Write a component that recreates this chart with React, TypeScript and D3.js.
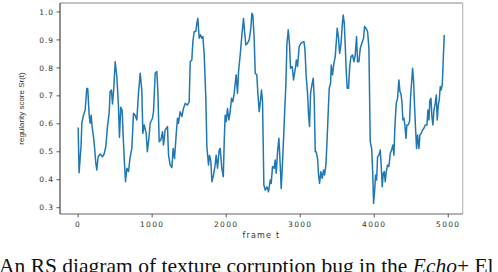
import React from "react";
import * as d3 from "d3";

// frame index and regularity score
const frames = [
  0, 13, 40, 50, 72, 95, 117, 130, 149, 162, 176, 189, 207, 221, 239, 252, 270, 297, 329, 351,
  374, 396, 419, 432, 450, 464, 482, 500, 523, 545, 558, 576, 594, 613, 626, 640, 658, 680, 703, 725,
  748, 770, 793, 815, 838, 860, 874, 892, 919, 935, 955, 973, 1004, 1018, 1041, 1063, 1077, 1095, 1117, 1140,
  1153, 1176, 1207, 1221, 1243, 1266, 1284, 1302, 1324, 1342, 1356, 1378, 1401, 1423, 1446, 1477, 1500, 1514, 1536, 1550,
  1568, 1590, 1604, 1617, 1635, 1653, 1671, 1685, 1703, 1725, 1739, 1761, 1775, 1793, 1807, 1829, 1851, 1865, 1883, 1905,
  1919, 1941, 1961, 1975, 1986, 2000, 2018, 2036, 2054, 2072, 2090, 2108, 2122, 2135, 2153, 2167, 2189, 2212, 2234, 2248,
  2266, 2288, 2311, 2333, 2347, 2360, 2378, 2392, 2414, 2428, 2446, 2459, 2477, 2491, 2509, 2527, 2550, 2572, 2595, 2608,
  2626, 2649, 2662, 2676, 2694, 2712, 2730, 2743, 2766, 2788, 2806, 2820, 2838, 2856, 2869, 2892, 2910, 2935, 2948, 2964,
  2986, 3009, 3032, 3050, 3063, 3081, 3099, 3113, 3126, 3140, 3158, 3176, 3189, 3203, 3216, 3234, 3248, 3261, 3279, 3297,
  3315, 3329, 3347, 3360, 3374, 3392, 3410, 3419, 3437, 3455, 3473, 3491, 3500, 3518, 3532, 3550, 3568, 3581, 3595, 3608,
  3622, 3635, 3653, 3667, 3685, 3707, 3725, 3743, 3761, 3775, 3793, 3811, 3833, 3856, 3869, 3887, 3910, 3928, 3946, 3966,
  3980, 3991, 4005, 4018, 4032, 4045, 4063, 4081, 4095, 4108, 4122, 4135, 4149, 4162, 4180, 4198, 4216, 4234, 4252, 4266,
  4279, 4297, 4315, 4333, 4347, 4360, 4374, 4387, 4401, 4414, 4428, 4441, 4459, 4477, 4491, 4509, 4518, 4532, 4545, 4558,
  4572, 4586, 4604, 4617, 4635, 4653, 4671, 4689, 4712, 4725, 4739, 4752, 4766, 4779, 4793, 4806, 4824, 4838, 4851, 4865,
  4878, 4892, 4905, 4919, 4932, 4946,
];

const scores = [
  0.587, 0.425, 0.524, 0.602, 0.631, 0.649, 0.727, 0.725, 0.631, 0.602, 0.631, 0.59, 0.554, 0.518, 0.459, 0.435, 0.482, 0.492, 0.482, 0.492,
  0.518, 0.59, 0.638, 0.715, 0.721, 0.671, 0.727, 0.822, 0.769, 0.661, 0.552, 0.659, 0.649, 0.53, 0.459, 0.393, 0.441, 0.429, 0.482, 0.512,
  0.638, 0.631, 0.614, 0.709, 0.781, 0.721, 0.566, 0.596, 0.566, 0.5, 0.545, 0.602, 0.62, 0.643, 0.781, 0.787, 0.715, 0.536, 0.542, 0.572,
  0.524, 0.578, 0.59, 0.488, 0.453, 0.443, 0.512, 0.476, 0.56, 0.62, 0.602, 0.643, 0.626, 0.655, 0.673, 0.667, 0.679, 0.822, 0.828, 0.894,
  0.93, 0.93, 0.96, 0.977, 0.906, 0.918, 0.906, 0.912, 0.846, 0.691, 0.518, 0.453, 0.488, 0.465, 0.393, 0.417, 0.453, 0.488, 0.441, 0.506,
  0.512, 0.441, 0.411, 0.55, 0.631, 0.608, 0.655, 0.614, 0.643, 0.691, 0.679, 0.709, 0.745, 0.775, 0.709, 0.787, 0.846, 0.918, 0.977, 0.93,
  0.882, 0.888, 0.9, 0.942, 0.995, 0.989, 0.906, 0.781, 0.775, 0.709, 0.643, 0.673, 0.721, 0.679, 0.381, 0.363, 0.375, 0.357, 0.399, 0.387,
  0.447, 0.441, 0.471, 0.423, 0.5, 0.548, 0.453, 0.369, 0.488, 0.631, 0.739, 0.882, 0.936, 0.882, 0.799, 0.805, 0.757, 0.8, 0.828, 0.805,
  0.876, 0.888, 0.892, 0.894, 0.87, 0.769, 0.709, 0.631, 0.59, 0.709, 0.739, 0.763, 0.691, 0.5, 0.5, 0.476, 0.417, 0.387, 0.429, 0.405,
  0.435, 0.417, 0.453, 0.524, 0.614, 0.727, 0.745, 0.81, 0.775, 0.816, 0.84, 0.906, 0.942, 0.906, 0.852, 0.882, 0.953, 0.989, 0.96, 0.882,
  0.787, 0.727, 0.727, 0.799, 0.84, 0.846, 0.822, 0.846, 0.912, 0.822, 0.822, 0.87, 0.888, 0.906, 0.948, 0.942, 0.93, 0.87, 0.536, 0.51,
  0.42, 0.315, 0.36, 0.417, 0.399, 0.482, 0.488, 0.506, 0.447, 0.375, 0.423, 0.429, 0.393, 0.429, 0.453, 0.447, 0.494, 0.506, 0.524, 0.488,
  0.59, 0.673, 0.691, 0.757, 0.715, 0.709, 0.679, 0.614, 0.62, 0.596, 0.548, 0.596, 0.596, 0.608, 0.697, 0.763, 0.799, 0.751, 0.661, 0.584,
  0.512, 0.56, 0.512, 0.56, 0.566, 0.578, 0.584, 0.596, 0.596, 0.649, 0.614, 0.685, 0.691, 0.626, 0.596, 0.649, 0.673, 0.703, 0.614, 0.667,
  0.685, 0.733, 0.721, 0.739, 0.828, 0.918,
];

const xTicks = [0, 1000, 2000, 3000, 4000, 5000];
const yTicks = [0.3, 0.4, 0.5, 0.6, 0.7, 0.8, 0.9, 1.0];

const W = 498;
const H = 272;
const plot = { left: 60, right: 462.7, top: 3, bottom: 214 };

const App: React.FC = () => {
  const x = d3.scaleLinear().domain([-245, 5195]).range([plot.left, plot.right]);
  const y = d3.scaleLinear().domain([0.2775, 1.032]).range([plot.bottom, plot.top]);

  const points = frames.map((f, i) => [f, scores[i]] as [number, number]);
  const line = d3
    .line<[number, number]>()
    .x((d) => x(d[0]))
    .y((d) => y(d[1]));

  const tickFont = "'DejaVu Sans', sans-serif";

  return (
    <svg
      width={W}
      height={H}
      style={{ position: "absolute", left: 0, top: 0, background: "#fff" }}
    >
      <rect x={0} y={0} width={W} height={H} fill="#fff" />

      {/* data line */}
      <path
        d={line(points) || ""}
        fill="none"
        stroke="#1f77b4"
        strokeWidth={1.5}
        strokeLinejoin="round"
      />

      {/* spines */}
      <line x1={plot.left} x2={plot.right} y1={plot.top} y2={plot.top} stroke="#888" strokeWidth={1} />
      <line x1={plot.right} x2={plot.right} y1={plot.top} y2={plot.bottom} stroke="#bbb" strokeWidth={1.2} />
      <line x1={plot.left} x2={plot.right} y1={plot.bottom} y2={plot.bottom} stroke="#666" strokeWidth={1} />
      <line x1={plot.left} x2={plot.left} y1={plot.top} y2={plot.bottom} stroke="#222" strokeWidth={1} />

      {/* y ticks */}
      {yTicks.map((t) => (
        <g key={"y" + t}>
          <line x1={plot.left - 3.5} x2={plot.left} y1={y(t)} y2={y(t)} stroke="#333" strokeWidth={0.8} />
          <text
            x={plot.left - 6}
            y={y(t)}
            dy="0.35em"
            textAnchor="end"
            fontFamily={tickFont}
            fontSize={7.5}
            letterSpacing={0.9}
            fill="#333"
          >
            {t.toFixed(1)}
          </text>
        </g>
      ))}

      {/* x ticks */}
      {xTicks.map((t) => (
        <g key={"x" + t}>
          <line x1={x(t)} x2={x(t)} y1={plot.bottom} y2={plot.bottom + 3.5} stroke="#333" strokeWidth={0.8} />
          <text
            x={x(t)}
            y={224.5}
            dy="0.35em"
            textAnchor="middle"
            fontFamily={tickFont}
            fontSize={7.5}
            letterSpacing={1.3}
            fill="#333"
          >
            {t}
          </text>
        </g>
      ))}

      {/* axis labels */}
      <text
        x={(plot.left + plot.right) / 2}
        y={235}
        dy="0.35em"
        textAnchor="middle"
        fontFamily={tickFont}
        fontSize={8}
        letterSpacing={1.2}
        fill="#333"
      >
        frame t
      </text>
      <text
        transform={`translate(21,${(plot.top + plot.bottom) / 2}) rotate(-90)`}
        dy="0.35em"
        textAnchor="middle"
        fontFamily="'Liberation Sans', Arial, sans-serif"
        fontSize={8}
        fill="#333"
      >
        regularity score Sr(t)
      </text>

      {/* caption (cut by the image border, as in the source) */}
      <text x={-1} y={273} fontFamily="'Liberation Serif', 'DejaVu Serif', serif" fontSize={21.5} fill="#111">
        An RS diagram of texture corruption bug in the <tspan fontStyle="italic">Echo</tspan>+ El
      </text>
    </svg>
  );
};

export default App;
